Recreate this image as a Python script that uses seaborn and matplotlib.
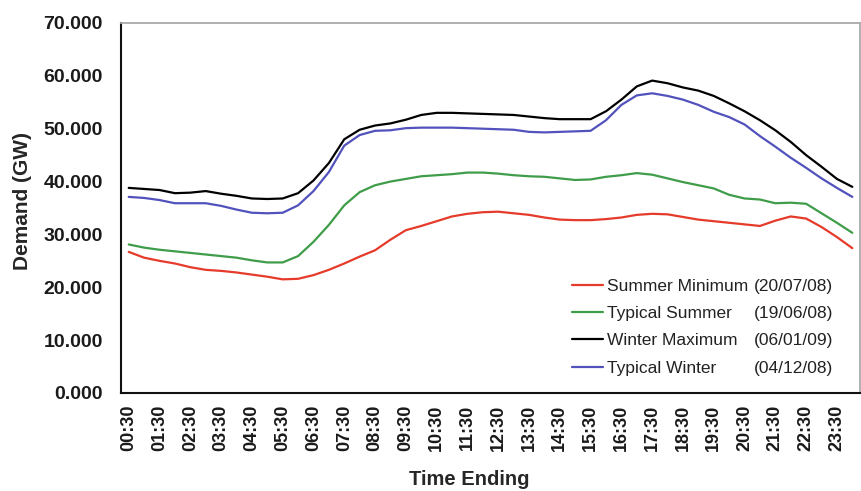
import pandas as pd
import seaborn as sns
import matplotlib.pyplot as plt
from matplotlib.lines import Line2D
from matplotlib.ticker import FuncFormatter, MultipleLocator

# Half-hourly "time ending" periods
time_ending = ["00:30", "01:00", "01:30", "02:00", "02:30", "03:00", "03:30", "04:00",
               "04:30", "05:00", "05:30", "06:00", "06:30", "07:00", "07:30", "08:00",
               "08:30", "09:00", "09:30", "10:00", "10:30", "11:00", "11:30", "12:00",
               "12:30", "13:00", "13:30", "14:00", "14:30", "15:00", "15:30", "16:00",
               "16:30", "17:00", "17:30", "18:00", "18:30", "19:00", "19:30", "20:00",
               "20:30", "21:00", "21:30", "22:00", "22:30", "23:00", "23:30", "24:00"]

# Demand values (GW)
summer_min = [26.7, 25.6, 25.0, 24.5, 23.8, 23.3, 23.1, 22.8, 22.4, 22.0, 21.5, 21.6,
              22.3, 23.3, 24.5, 25.8, 27.0, 29.0, 30.8, 31.6, 32.5, 33.4, 33.9, 34.2,
              34.3, 34.0, 33.7, 33.2, 32.8, 32.7, 32.7, 32.9, 33.2, 33.7, 33.9, 33.8,
              33.3, 32.8, 32.5, 32.2, 31.9, 31.6, 32.6, 33.4, 33.0, 31.4, 29.5, 27.4]
typical_summer = [28.1, 27.5, 27.1, 26.8, 26.5, 26.2, 25.9, 25.6, 25.1, 24.7, 24.7, 25.9,
                  28.6, 31.8, 35.5, 38.0, 39.3, 40.0, 40.5, 41.0, 41.2, 41.4, 41.7, 41.7,
                  41.5, 41.2, 41.0, 40.9, 40.6, 40.3, 40.4, 40.9, 41.2, 41.6, 41.3, 40.6,
                  39.9, 39.3, 38.7, 37.5, 36.8, 36.6, 35.9, 36.0, 35.8, 34.0, 32.2, 30.3]
winter_max = [38.8, 38.6, 38.4, 37.8, 37.9, 38.2, 37.7, 37.3, 36.8, 36.7, 36.8, 37.8,
              40.2, 43.5, 48.0, 49.8, 50.6, 51.0, 51.7, 52.6, 53.0, 53.0, 52.9, 52.8,
              52.7, 52.6, 52.3, 52.0, 51.8, 51.8, 51.8, 53.3, 55.5, 58.0, 59.1, 58.6,
              57.8, 57.2, 56.2, 54.8, 53.3, 51.6, 49.7, 47.5, 45.0, 42.8, 40.5, 39.0]
typical_winter = [37.1, 36.9, 36.5, 35.9, 35.9, 35.9, 35.4, 34.7, 34.1, 34.0, 34.1, 35.5,
                  38.2, 41.8, 46.8, 48.8, 49.6, 49.7, 50.1, 50.2, 50.2, 50.2, 50.1, 50.0,
                  49.9, 49.8, 49.4, 49.3, 49.4, 49.5, 49.6, 51.6, 54.5, 56.3, 56.7, 56.2,
                  55.5, 54.5, 53.2, 52.2, 50.8, 48.6, 46.6, 44.5, 42.6, 40.6, 38.8, 37.1]

series_names = ["Summer Minimum", "Typical Summer", "Winter Maximum", "Typical Winter"]
series_dates = ["(20/07/08)", "(19/06/08)", "(06/01/09)", "(04/12/08)"]
series_colours = ["#e63b2a", "#3f9d4a", "#000000", "#5252bd"]

# long format for seaborn
frames = []
for name, vals in zip(series_names, [summer_min, typical_summer, winter_max, typical_winter]):
    frames.append(pd.DataFrame({"pos": range(len(time_ending)), "time": time_ending,
                                "demand": vals, "series": name}))
df = pd.concat(frames, ignore_index=True)

sns.set_theme(style="white")
plt.rcParams["font.family"] = ["Liberation Sans", "DejaVu Sans"]

fig = plt.figure(figsize=(8.62, 4.91), dpi=100)
ax = fig.add_axes([0.1404, 0.1996, 0.8573, 0.7536])

sns.lineplot(data=df, x="pos", y="demand", hue="series", hue_order=series_names,
             palette=series_colours, linewidth=1.6, legend=False, ax=ax)

# axes limits / ticks (Excel-style category axis)
ax.set_xlim(-0.5, len(time_ending) - 0.5)
ax.set_ylim(0, 70)
ax.set_xticks(range(0, len(time_ending), 2))
ax.set_xticklabels(time_ending[::2], rotation=90, fontsize=13, fontweight="bold", color="#1a1a1a")
ax.set_xticks([p - 0.5 for p in range(0, len(time_ending) + 1, 2)], minor=True)
ax.tick_params(axis="x", which="major", length=0, pad=8.5)
ax.tick_params(axis="x", which="minor", length=5, width=1.5, color="#222222", direction="out")
ax.yaxis.set_major_locator(MultipleLocator(10))
ax.yaxis.set_major_formatter(FuncFormatter(lambda v, p: f"{v:.3f}"))
ax.tick_params(axis="y", length=4, width=1.5, color="#222222", pad=9, direction="out",
               labelsize=14, labelcolor="#1a1a1a")
for lab in ax.get_yticklabels():
    lab.set_fontweight("bold")

for side in ["left", "bottom"]:
    ax.spines[side].set_color("#111111")
    ax.spines[side].set_linewidth(1.5)
for side in ["top", "right"]:
    ax.spines[side].set_color("#aaaaaa")
    ax.spines[side].set_linewidth(1.3)

ax.set_xlabel("Time Ending", fontsize=14.5, fontweight="bold", va="center")
ax.set_ylabel("Demand (GW)", fontsize=15, fontweight="bold", va="center")
ax.xaxis.set_label_coords(0.471, -0.235)
ax.yaxis.set_label_coords(-0.133, 0.518)

# legend: names in one column, dates aligned in a second column
handles = list(ax.get_lines()[:4]) + [Line2D([], [], alpha=0) for _ in series_dates]
leg = ax.legend(handles, series_names + series_dates, ncol=2, loc="upper left",
                bbox_to_anchor=(0.61, 0.309), frameon=False, fontsize=12.5,
                handlelength=1.8, handletextpad=0.25, labelspacing=0.7,
                columnspacing=-1.75, borderpad=0, borderaxespad=0)
for t in leg.get_texts():
    t.set_color("#222222")

fig.savefig("out.png", dpi=100)
